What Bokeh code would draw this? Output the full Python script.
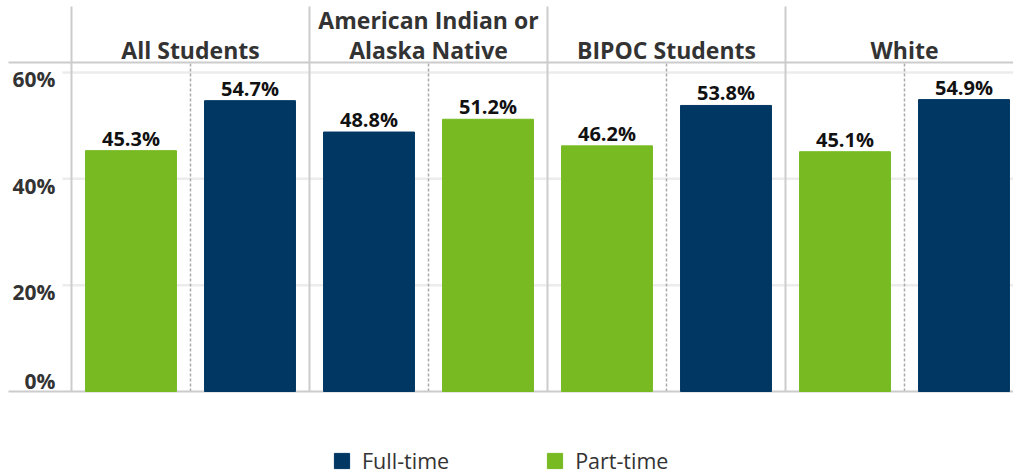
from bokeh.plotting import figure
from bokeh.models import ColumnDataSource, Range1d, Legend, LegendItem
from bokeh.core.properties import value
from bokeh.embed import file_html
from bokeh.resources import INLINE

# ---- data ----
groups = ["All Students", "American Indian or\nAlaska Native", "BIPOC Students", "White"]
full_time = [54.7, 48.8, 53.8, 54.9]
part_time = [45.3, 51.2, 46.2, 45.1]
series = ["Full-time", "Part-time"]
y_ticks = [0, 20, 40, 60]
y_tick_labels = ["0%", "20%", "40%", "60%"]

# ---- style ----
NAVY = "#003763"
GREEN = "#77BA22"
TXT = "#333333"
FONT = "Open Sans"
W, H = 1013, 474
X0, X1 = -0.2983, 3.958
Y0, Y1 = -15.611, 73.54
HEADER_Y = 61.88          # level of the header rule (in % units)
BAR_W = 0.382

p = figure(width=W, height=H, output_backend="svg", toolbar_location=None,
           x_range=Range1d(X0, X1), y_range=Range1d(Y0, Y1),
           x_axis_type=None, y_axis_type=None, min_border=0,
           outline_line_color=None)
p.background_fill_color = "white"
p.border_fill_color = "white"

n = len(groups)
gx = list(range(n))

# gridlines (from tick values)
gl = [t for t in y_ticks if t > 0]
p.segment(x0=[-0.038] * len(gl), x1=[X1] * len(gl), y0=gl, y1=gl,
          line_color="#ececec", line_width=2.5)

# group separators
p.segment(x0=gx, x1=gx, y0=[0] * n, y1=[72.4] * n, line_color="#cccccc", line_width=2)
# dashed half separators
hx = [i + 0.5 for i in gx]
p.segment(x0=hx, x1=hx, y0=[0] * n, y1=[HEADER_Y] * n, line_color="#aaaaaa",
          line_width=1.5, line_dash="3 2")
# header rule and baseline
p.segment(x0=[-0.2647, -0.2647], x1=[X1, X1], y0=[HEADER_Y, 0], y1=[HEADER_Y, 0],
          line_color="#cccccc", line_width=2)

# bars: the smaller value of each group sits in the first slot
ft_x = [i + (0.25 if f < pt else 0.75) for i, (f, pt) in enumerate(zip(full_time, part_time))]
pt_x = [i + (0.25 if pt < f else 0.75) for i, (f, pt) in enumerate(zip(full_time, part_time))]

ft_src = ColumnDataSource(dict(x=ft_x, top=full_time, lab=[f"{v:.1f}%" for v in full_time]))
pt_src = ColumnDataSource(dict(x=pt_x, top=part_time, lab=[f"{v:.1f}%" for v in part_time]))

r_ft = p.vbar(x="x", top="top", bottom=0, width=BAR_W, color=NAVY, source=ft_src)
r_pt = p.vbar(x="x", top="top", bottom=0, width=BAR_W, color=GREEN, source=pt_src)

for src in (ft_src, pt_src):
    p.text(x="x", y="top", text="lab", source=src, text_align="center",
           text_baseline="bottom", y_offset=1, text_font=value(FONT),
           text_font_style="bold", text_font_size="20px", text_color="#111111")

# group headers
hx_, hy_, ht_, ho_ = [], [], [], []
for i, g in enumerate(groups):
    lines = g.split("\n")
    for k, line in enumerate(lines):
        hx_.append(i + 0.5)
        hy_.append(HEADER_Y)
        ht_.append(line)
        ho_.append(-(len(lines) - 1 - k) * 30 + 4)
p.text(x="x", y="y", text="t", y_offset="o",
       source=ColumnDataSource(dict(x=hx_, y=hy_, t=ht_, o=ho_)),
       text_align="center", text_baseline="bottom", text_font=value(FONT),
       text_font_style="bold", text_font_size="23px", text_color=TXT)

# y tick labels
up = [(t, l) for t, l in zip(y_ticks, y_tick_labels) if t > 0]
p.text(x=[-0.0672] * len(up), y=[t for t, _ in up], text=[l for _, l in up],
       text_align="right", text_baseline="top", y_offset=-7, text_font=value(FONT),
       text_font_style="bold", text_font_size="21px", text_color=TXT)
zero = [(t, l) for t, l in zip(y_ticks, y_tick_labels) if t == 0]
p.text(x=[-0.0672] * len(zero), y=[t for t, _ in zero], text=[l for _, l in zero],
       text_align="right", text_baseline="bottom", y_offset=4, text_font=value(FONT),
       text_font_style="bold", text_font_size="21px", text_color=TXT)

# legend
legend = Legend(items=[LegendItem(label=series[0], renderers=[r_ft]),
                       LegendItem(label=series[1], renderers=[r_pt])],
                orientation="horizontal", location=(332, -1),
                glyph_width=19, glyph_height=19, label_standoff=11, spacing=96,
                padding=0, margin=0, border_line_color=None, background_fill_alpha=0,
                label_text_font=FONT, label_text_font_size="21.5px", label_text_color=TXT)
p.add_layout(legend, "center")

open("out.html", "w").write(file_html(p, INLINE))
